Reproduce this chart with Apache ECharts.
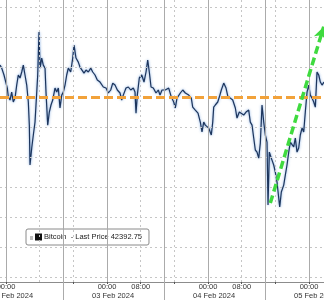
<!DOCTYPE html>
<html><head><meta charset="utf-8">
<script src="https://cdn.jsdelivr.net/npm/echarts@6/dist/echarts.min.js"></script>
<style>html,body{margin:0;padding:0;background:#fff}#c{width:324px;height:300px}</style>
</head><body><div id="c"></div>
<script>
// hours since 02 Feb 2024 00:00
const hours = [
 -1.43,-1.02,-0.48,0,0.31,0.55,0.95,1.35,1.73,2.14,
 2.54,2.92,3.33,3.73,4.11,4.51,4.92,5.30,5.54,5.70,
 6.11,6.49,6.89,7.30,7.53,7.84,8.08,8.48,8.86,9.27,
 9.50,9.91,10.29,10.69,11.10,11.64,12.05,12.43,12.83,13.24,
 13.62,14.02,14.42,14.80,15.37,15.85,16.16,16.63,17.18,17.58,
 17.99,18.53,19.01,19.56,20.13,20.60,21.15,21.69,22.34,23.12,
 23.76,24.31,24.88,25.36,25.90,26.45,27.09,27.49,27.87,28.51,
 29.06,29.63,30.25,30.65,30.89,31.20,31.67,32.25,32.79,33.27,
 33.67,34.05,34.46,35.00,35.64,36.19,36.59,37.07,37.85,38.66,
 39.28,39.85,40.23,40.63,41.42,41.99,42.61,43.41,44.03,44.36,
 44.98,45.62,46.17,46.57,46.98,47.36,48.17,48.78,49.12,49.35,
 49.73,50.31,50.69,51.16,51.73,52.28,52.75,53.30,53.87,54.49,
 54.89,55.44,55.91,56.48,57.03,57.67,58.05,58.46,58.86,59.24,
 59.64,60.05,60.43,60.83,61.24,61.62,62.02,62.26,62.57,63.04,
 63.61,63.99,64.40,64.80,65.04,65.42,65.99,66.37,66.77,67.18,
 67.56,67.96,68.36,68.74,69.15,69.55,69.93,70.34,70.74,71.12,
 71.53,71.93,72.31,72.71,73.12,73.50,73.90,74.31,74.69,75.09,
 75.56
];
const prices = [
 43213,43193,43147,43093,43060,43000,42980,43033,42967,42993,
 43080,43147,43127,43167,43213,43147,43080,42967,42813,42547,
 42660,42747,42833,43033,43147,43433,43193,43260,43213,43193,
 43033,42813,42900,42947,42980,43060,43033,43060,42927,43013,
 43033,43080,43147,43193,43167,43260,43347,43260,43233,43200,
 43193,43160,43180,43167,43193,43167,43147,43113,43100,43067,
 43060,43027,43047,43093,43080,43047,43027,42980,43013,43060,
 43067,43047,43060,43033,42893,43013,43127,43147,43100,43167,
 43247,43167,43067,43060,43027,43047,43013,43047,43047,43060,
 43000,42967,42927,42993,43027,43047,43027,43013,42993,42933,
 42913,42893,42833,42767,42833,42813,42793,42747,42833,42933,
 42947,42967,43000,43047,43093,43060,43000,42993,42980,42927,
 42860,42900,42913,42880,42900,42913,42833,42813,42727,42647,
 42633,42593,42693,42947,42833,42747,42700,42280,42633,42593,
 42547,42500,42433,42327,42267,42367,42413,42480,42547,42633,
 42700,42713,42667,42727,42633,42660,42747,42793,42767,42900,
 43033,43080,43013,42993,42967,42933,43167,43147,43100,43080,
 43100
];
const seriesName = 'Bitcoin  - Last Price';
const lastPrice = '42392.75';
const levelPrice = 43000;
const trendStart = [62.80, 42293];
const trendEnd = [75.49, 43469];
const priceGrid = [41800,42000,42200,42400,42600,42800,43200,43400,43600];
const dayTicks = [0,24,48,72];
const hourTicks = [8,16,32,40,56,64];
const sessionBreaks = [13.7,37.7,61.7];
const labelTicks = [0,8,24,32,48,56,72];
const minorTicks = [0,8,16,24,32,40,48,56,64,72];
const dayLabels = ['02 Feb 2024','03 Feb 2024','04 Feb 2024','05 Feb 2024'];
const xMin = -1.43, xMax = 75.56;
const yMin = 41767, yMax = 43647;

const FONT = "'Liberation Sans', Arial, sans-serif";
const chart = echarts.init(document.getElementById('c'), null, {renderer:'canvas'});

function fmt(v){
  const d = Math.floor(v/24 + 1e-9);
  const h = Math.round(v - d*24);
  const hh = (h < 10 ? '0' : '') + h + ':00';
  if (h === 0) return '{t|' + hh + '}\n{d|' + dayLabels[d] + '}';
  return '{t|' + hh + '}';
}

const dotted = {color:'#c6c6c6', type:[2,3], width:1};
const solid = {color:'#ababab', type:'solid', width:1};

const gridLines = []
  .concat(priceGrid.map(v => ({yAxis: v, lineStyle: dotted})))
  .concat(hourTicks.map(v => ({xAxis: v, lineStyle: dotted})))
  .concat(dayTicks.map(v => ({xAxis: v, lineStyle: solid})))
  .concat(sessionBreaks.map(v => ({xAxis: v, lineStyle: solid})));

chart.setOption({
  animation: false,
  backgroundColor: '#fff',
  grid: {left: 0, right: 0, top: 0, bottom: 18, containLabel: false, outerBoundsMode: 'none'},
  xAxis: [{
    type: 'value', min: xMin, max: xMax, position: 'bottom',
    axisLine: {show: true, lineStyle: {color: '#8c8c8c', width: 1}},
    axisTick: {show: true, customValues: minorTicks, length: 2, lineStyle: {color: '#555'}},
    axisLabel: {
      customValues: labelTicks, formatter: fmt, margin: 1,
      showMinLabel: true, showMaxLabel: true, hideOverlap: false,
      rich: {
        t: {fontSize: 7.5, lineHeight: 8, color: '#333', fontFamily: FONT},
        d: {fontSize: 7.5, lineHeight: 9, color: '#333', fontFamily: FONT, padding: [0,0,0,12]}
      }
    },
    splitLine: {show: false}
  }, {
    type: 'value', min: xMin, max: xMax, position: 'bottom',
    axisLine: {show: false},
    axisTick: {show: true, customValues: sessionBreaks, length: 18, lineStyle: {color: '#ababab'}},
    axisLabel: {show: false},
    splitLine: {show: false}
  }],
  yAxis: {type: 'value', min: yMin, max: yMax, show: false, splitLine: {show: false}},
  legend: {
    data: [seriesName], left: 26, top: 229,
    padding: [4, 7, 4, 9],
    backgroundColor: '#fff', borderColor: '#8a8a8a', borderWidth: 1, borderRadius: 2,
    itemWidth: 7, itemHeight: 7, icon: 'rect', selectedMode: false,
    itemStyle: {color: '#111', borderWidth: 0},
    formatter: n => n + ' ' + lastPrice,
    textStyle: {fontSize: 7.5, color: '#222', fontFamily: FONT, padding: [0,0,0,-3]}
  },
  graphic: [{type: 'rect', left: 30, top: 236, shape: {width: 3, height: 4}, style: {fill: '#bdbdbd'}, z: 100}],
  series: [
    {type: 'line', name: 'grid', data: [], silent: true, z: 1,
     markLine: {silent: true, symbol: 'none', animation: false, label: {show: false}, data: gridLines}},
    {type: 'line', name: seriesName, xAxisIndex: 0, data: hours.map((h, i) => [h, prices[i]]),
     showSymbol: false, symbol: 'none', z: 2,
     lineStyle: {color: '#1d355c', width: 1.2, shadowColor: 'rgba(70,130,210,0.8)', shadowBlur: 2.5},
     itemStyle: {color: '#111'}},
    {type: 'line', name: 'overlay', data: [], silent: true, z: 3,
     markLine: {silent: true, symbol: 'none', animation: false, label: {show: false},
       data: [
         {yAxis: levelPrice, lineStyle: {color: '#F2A23A', width: 3, type: [9,4]}},
         [{coord: trendStart, symbol: 'none', lineStyle: {color: '#3FDA3F', width: 3.5, type: [8,4]}},
          {coord: trendEnd, symbol: 'arrow', symbolSize: [10, 12]}]
       ]}}
  ]
});
</script>
</body></html>
